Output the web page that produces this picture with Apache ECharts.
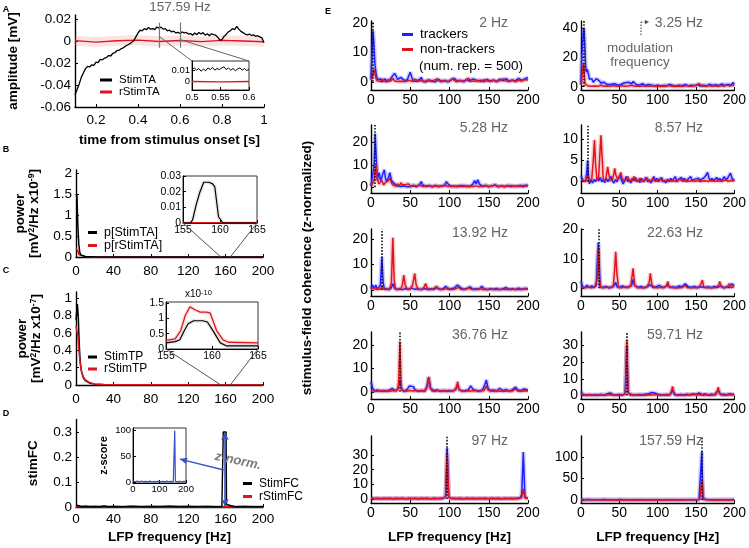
<!DOCTYPE html>
<html><head><meta charset="utf-8">
<script src="https://cdn.jsdelivr.net/npm/echarts@6/dist/echarts.min.js"></script>
<style>html,body{margin:0;padding:0;background:#fff}#c{width:749px;height:548px}</style>
</head><body><div id="c"></div><script>
// ---------------- DATA ----------------
// Panel A: stimulus-triggered average (157.59 Hz), time [s] vs amplitude [mV]
const stimTA = [[0.10,-0.049],[0.11,-0.044],[0.12,-0.039],[0.13,-0.033],[0.14,-0.029],[0.15,-0.025],[0.16,-0.023],[0.17,-0.0235],[0.18,-0.0215],[0.19,-0.022],[0.20,-0.019],[0.21,-0.0195],[0.22,-0.0165],[0.23,-0.017],[0.24,-0.0155],[0.25,-0.015],[0.26,-0.013],[0.27,-0.0135],[0.28,-0.011],[0.29,-0.0105],[0.30,-0.0085],[0.31,-0.0082],[0.32,-0.0068],[0.33,-0.006],[0.34,-0.0045],[0.35,-0.0035],[0.36,-0.0025],[0.37,-0.001],[0.38,0.0005],[0.39,0.004],[0.40,0.0075],[0.41,0.010],[0.42,0.0095],[0.43,0.0115],[0.44,0.0105],[0.45,0.0125],[0.46,0.011],[0.47,0.0115],[0.48,0.0105],[0.49,0.013],[0.50,0.012],[0.51,0.0128],[0.52,0.011],[0.53,0.0115],[0.54,0.0095],[0.55,0.010],[0.56,0.0085],[0.57,0.0092],[0.58,0.0075],[0.59,0.008],[0.60,0.007],[0.61,0.0085],[0.62,0.0075],[0.63,0.008],[0.64,0.0065],[0.65,0.007],[0.66,0.0055],[0.67,0.0075],[0.68,0.006],[0.69,0.008],[0.70,0.0065],[0.71,0.0078],[0.72,0.0055],[0.73,0.0068],[0.74,0.005],[0.75,0.0068],[0.76,0.006],[0.77,0.0055],[0.78,0.0035],[0.79,0.001],[0.80,0.0015],[0.81,0.0045],[0.82,0.0062],[0.83,0.0085],[0.84,0.0095],[0.85,0.0115],[0.86,0.0105],[0.87,0.0135],[0.88,0.011],[0.89,0.009],[0.90,0.0078],[0.91,0.0065],[0.92,0.0058],[0.93,0.0065],[0.94,0.0052],[0.95,0.0058],[0.96,0.0045],[0.97,0.005],[0.98,0.004],[0.99,0.003],[1.00,-0.0015]];
const rStimTA = [[0.1,0.0005],[0.2,-0.0008],[0.3,0.0004],[0.4,0.001],[0.5,-0.0002],[0.6,0.0006],[0.7,-0.0004],[0.8,0.0008],[0.9,0.0002],[1.0,-0.0005]];
const stimTAzoom = [[0.500,0.011],[0.504,0.0125],[0.508,0.0105],[0.512,0.012],[0.516,0.0095],[0.520,0.0115],[0.524,0.010],[0.528,0.0125],[0.532,0.011],[0.536,0.013],[0.540,0.0105],[0.544,0.012],[0.548,0.011],[0.552,0.0125],[0.556,0.0135],[0.560,0.011],[0.564,0.0125],[0.568,0.0105],[0.572,0.012],[0.576,0.010],[0.580,0.0115],[0.584,0.0125],[0.588,0.0105],[0.592,0.012],[0.596,0.010],[0.600,0.0115]];
const rStimTAzoom = [[0.5,0.0002],[0.55,-0.0001],[0.6,0.0002]];
const ticksA_x = [0.2,0.4,0.6,0.8,1], ticksA_y = [-0.06,-0.04,-0.02,0,0.02];
const ticksAin_x = [0.5,0.55,0.6], ticksAin_y = [0,0.01];

// Panel B: power of StimTA (x1e-9)
const pStimTA = [[0,1.5],[1,1.45],[2,0.75],[3,0.3],[4,0.12],[5,0.05],[7,0.02],[10,0.01],[20,0.004],[40,0.001],[200,0]];
const pRStimTA = [[0,0.2],[1,0.22],[2,0.15],[3,0.06],[5,0.02],[10,0.005],[20,0.001],[200,0]];
const pStimTAzoom = [[155,0],[156,0],[156.3,0.002],[156.8,0.012],[157.3,0.02],[157.8,0.026],[158.5,0.026],[159,0.025],[159.3,0.023],[159.8,0.004],[160.4,0],[165,0]];
const pRStimTAzoom = [[155,0.0003],[160,0.0003],[165,0.0003]];
const ticksB_x = [0,40,80,120,160,200], ticksB_y = [0,0.5,1,1.5,2];
const ticksBin_x = [155,160,165], ticksBin_y = [0,0.01,0.02,0.03];

// Panel C: StimTP power (x1e-7), inset in units of 1e-10
const stimTP = [[0,0.75],[1.5,0.93],[2.5,0.78],[3,0.6],[4,0.35],[5,0.22],[6,0.15],[8,0.08],[10,0.05],[15,0.02],[20,0.01],[30,0.004],[50,0.002],[100,0.001],[200,0]];
const rStimTP = [[0,0.68],[1,0.66],[2,0.56],[3,0.42],[4,0.3],[5,0.21],[6,0.15],[8,0.09],[10,0.06],[15,0.025],[20,0.012],[30,0.005],[50,0.002],[99,0.002],[100,0.012],[101,0.002],[200,0.001]];
const stimTPzoom = [[155,0.2],[156,0.24],[156.5,0.3],[157,0.6],[157.4,0.82],[158,0.92],[159,0.92],[159.5,0.88],[160.1,0.6],[160.9,0.2],[161.6,0.1],[165,0.1]];
const rStimTPzoom = [[155,0.28],[156,0.33],[156.6,0.6],[157.1,1.1],[157.6,1.37],[158.2,1.27],[158.7,1.2],[159.4,1.2],[159.8,1.17],[160.5,0.6],[161.2,0.3],[161.8,0.22],[165,0.2]];
const ticksC_x = [0,40,80,120,160,200], ticksC_y = [0,0.2,0.4,0.6,0.8,1];
const ticksCin_x = [155,160,165], ticksCin_y = [0,0.5,1,1.5];

// Panel D: stimulus-field coherence, inset z-score
const stimFC = [[0,0.008],[2,0.002],[6,0.001],[10,0.003],[15,0.001],[20,0.002],[25,0.001],[30,0.004],[35,0.001],[40,0.002],[50,0.001],[60,0.003],[70,0.001],[80,0.002],[90,0.001],[100,0.003],[110,0.001],[120,0.002],[130,0.001],[140,0.002],[150,0.001],[156,0.002],[157,0.01],[157.5,0.3],[160.5,0.3],[161,0.01],[162,0.002],[170,0.001],[180,0.002],[190,0.001],[200,0.001]];
const rStimFC = [[0,0.002],[50,0.001],[100,0.002],[150,0.001],[200,0.001]];
const zScore = [[0,2],[8,0.5],[16,1.5],[24,0.3],[32,1.8],[40,0.5],[48,1.2],[56,0.3],[64,1.5],[72,0.4],[80,1],[88,0.3],[96,1.5],[104,0.5],[112,1.2],[120,0.3],[128,1.6],[136,0.5],[144,1],[152,0.4],[156,1],[157.5,100],[159,100],[160,1],[168,0.5],[176,1.2],[184,0.4],[192,1],[200,0.5]];
const ticksD_x = [0,40,80,120,160,200], ticksD_y = [0,0.1,0.2,0.3];
const ticksDin_x = [0,100,200], ticksDin_y = [0,50,100];

// Panel E: stimulus-field coherence (z-normalized), trackers vs non-trackers
const e1Trackers = [[0,1],[1,8],[2.5,17.5],[3.5,14],[5,6],[6.5,2.5],[8,0.8],[10,0.2],[12,1],[14,0],[16,0.6],[18,1],[20,0.2],[22,0.8],[24,0.3],[26,1.5],[28,1.2],[30,2.9],[32,2],[34,0.8],[36,0.5],[38,1.5],[40,1.7],[42,0.6],[44,0.2],[46,0.5],[48,2],[50,3.3],[52,1.5],[54,0.2],[56,0.5],[58,0.2],[60,0.4],[62,0.8],[64,1.5],[66,0.3],[70,0],[74,0.6],[78,0.2],[82,0],[86,0.8],[90,0.1],[94,0.5],[98,0],[102,0.7],[106,1.2],[110,0.2],[114,0.5],[118,0.1],[122,0.8],[126,0.2],[130,1],[132,1.3],[136,0.3],[140,0.5],[144,0.1],[148,0.8],[152,0.2],[156,0.5],[160,0.1],[164,0.9],[168,0.4],[172,1.1],[176,0.2],[180,0.5],[184,0.3],[188,1.2],[192,0.5],[196,1],[200,1.5]];
const e1NonTrackers = [[0,0.5],[2,2],[4,4.3],[5,3],[6,1.5],[8,0.3],[10,0.6],[12,0.2],[14,1],[16,0.3],[18,0.5],[20,0],[22,0.8],[24,0.2],[26,0.4],[28,1.2],[30,0.3],[32,0.5],[34,0.1],[36,0.6],[38,0.2],[40,0.8],[44,0.1],[48,0.5],[52,0.2],[56,0.9],[60,0.2],[64,0.4],[68,0],[72,0.6],[76,0.2],[80,0.5],[84,1],[88,0.1],[92,0.4],[96,0.2],[100,0.3],[104,1],[108,0.1],[112,0.5],[116,0.2],[120,0.3],[124,1.2],[128,0.3],[132,0.2],[136,0.5],[140,0.1],[144,0.7],[148,0.3],[152,0.2],[156,0.6],[160,0.1],[164,0.4],[168,1],[172,0.2],[176,0.3],[180,0.6],[184,0.1],[188,0.5],[192,0.3],[196,0.8],[200,0.6]];
const e2Trackers = [[0,2],[1,20],[3,38],[4,40],[5,28],[6,14],[7,10],[8,12],[9,12.5],[10,8],[11,5],[12,4],[14,5.5],[16,3],[18,2.5],[20,5.5],[22,6],[24,4],[26,2.5],[28,2],[30,3],[32,2],[34,1.5],[36,2.5],[38,1.5],[40,1.2],[44,2],[48,1],[52,1.5],[56,2.5],[58,1.5],[62,3],[66,2],[68,3.5],[70,3],[72,1.5],[76,1],[80,2],[84,0.8],[88,1.5],[92,1],[96,0.5],[100,1],[104,0.5],[108,0.8],[112,0.6],[116,1.5],[120,0.8],[124,0.5],[128,1],[132,0.6],[136,1.5],[140,0.5],[144,1],[148,0.6],[152,1.2],[156,0.4],[160,1],[164,0.5],[168,1.6],[172,0.8],[176,1.3],[180,0.6],[184,1.8],[188,0.7],[192,1.5],[196,1],[198,2.8],[200,1.5]];
const e2NonTrackers = [[0,1],[2,10],[3.3,16],[4,12],[5,3],[6,1.5],[8,0.5],[10,0.3],[12,0.8],[14,0.2],[18,0.5],[22,0.2],[26,1],[30,0.3],[34,0.5],[38,0.2],[42,0.8],[46,0.3],[50,0.2],[54,0.6],[58,0.3],[62,0.5],[66,1],[70,0.2],[74,0.5],[78,0.2],[82,0.6],[86,0.2],[90,0.3],[94,0.8],[98,0.3],[102,0.2],[106,0.5],[110,0.3],[114,1],[118,0.2],[122,0.4],[126,0.2],[130,0.5],[134,0.3],[138,0.7],[142,0.2],[146,0.5],[150,1],[154,2],[158,0.5],[162,0.3],[166,0.8],[170,0.2],[174,0.6],[178,0.3],[182,0.8],[186,0.3],[190,1.2],[194,0.5],[198,1],[200,0.8]];
const e3Trackers = [[0,0.5],[2,1],[4,10],[5.3,24],[6.5,15],[8,3],[9,5],[10.5,6.5],[12,3],[13.5,4],[15,6],[17,7.8],[18.5,4],[20,2.5],[22,4],[24,6.5],[26,3],[28,2.5],[30,1.5],[32,1],[34,0.5],[36,1.2],[38,0.3],[40,0.8],[42,0.5],[44,1],[46,0.2],[48,0.6],[50,0.3],[54,0.8],[58,0.2],[62,1.2],[64,2.5],[66,1],[70,0.3],[74,0.6],[78,0.2],[82,0.8],[86,0.3],[90,0.5],[94,1],[96,2.5],[98,1.5],[102,0.3],[106,0.6],[110,0.2],[114,0.8],[118,0.3],[122,0.6],[126,0.2],[130,1.5],[132,3],[134,1.5],[136,3.3],[138,1.5],[142,0.3],[146,0.8],[150,0.2],[154,0.6],[158,1],[162,0.2],[166,0.5],[170,0.3],[174,0.8],[178,0.2],[182,0.6],[186,0.3],[190,0.8],[194,0.2],[198,1],[200,0.5]];
const e3NonTrackers = [[0,0.5],[2,1],[4,3],[5.3,7],[6.5,10],[8,4],[10,1.5],[12,2],[14,3],[16,1],[18,2],[20,1.5],[22,3],[24,4],[26,2],[28,1],[30,1.5],[32,0.5],[34,1.5],[36,0.5],[38,2],[40,1],[42,0.3],[44,1.2],[46,0.5],[48,1.5],[50,0.3],[54,0.8],[58,0.5],[62,1],[66,0.3],[70,0.5],[74,0.8],[78,0.2],[82,0.6],[86,0.3],[90,0.5],[94,0.8],[98,0.3],[102,0.5],[106,0.2],[110,0.6],[114,0.3],[118,0.8],[122,0.2],[126,0.5],[130,0.3],[134,0.6],[138,0.2],[142,0.5],[146,0.8],[150,0.3],[154,0.5],[158,1],[162,0.3],[166,0.6],[170,0.2],[174,0.5],[178,0.8],[182,0.3],[186,0.6],[190,0.3],[194,0.8],[198,0.5],[200,0.6]];
const e4Trackers = [[0,1.5],[2,0.5],[4,0.8],[6,0],[7.5,2],[8.6,5],[9.8,1],[11,-0.5],[13,0.5],[15,-0.3],[17,0.5],[19,0],[21,0.8],[23,0.2],[25,1],[27,0],[29,0.5],[31,-0.2],[33,0.8],[35,0],[37,0.6],[39,1.2],[41,0.2],[43,-0.3],[45,0.5],[47,0],[49,0.8],[51,1.5],[53,0.3],[55,-0.5],[57,0.3],[59,1.2],[61,0],[63,0.5],[65,-0.3],[67,0.8],[69,0.2],[71,1],[73,0],[75,0.5],[77,-0.2],[79,0.8],[81,0],[83,0.3],[85,1],[87,0],[89,0.5],[91,-0.3],[93,0.3],[95,1.2],[97,0.2],[99,0.8],[101,0],[103,0.5],[105,1],[107,0.2],[109,0.5],[111,-0.2],[113,0.6],[115,0],[117,0.8],[119,0.2],[121,0.5],[123,1.2],[125,0],[127,0.5],[129,0.2],[131,1],[133,0.3],[135,0.8],[137,0],[139,0.5],[141,0.2],[143,1.2],[145,0.3],[147,0],[149,0.6],[151,0.2],[153,0.8],[155,0],[157,0.5],[159,0.3],[161,1],[163,1.5],[165,2.2],[167,0.8],[169,0.3],[171,0.8],[173,0.2],[175,0.5],[177,1],[179,0.3],[181,0.8],[183,0.2],[185,0.5],[187,1.2],[189,0.3],[191,0.8],[193,0.5],[195,2],[197,0.8],[199,0.3],[200,0.5]];
const e4NonTrackers = [[0,0.5],[3,0.3],[6,0.2],[8.6,1.5],[11,0.3],[14,0.5],[16,5],[17.6,9.8],[19,4],[21,0.3],[23,1],[24.5,6],[26,10.9],[27.5,6],[29,0.5],[32,0.3],[33.5,2],[34.8,3.5],[36,2],[38,0.3],[41,0.5],[43,2],[44,3.1],[45.5,1.5],[48,0.5],[50.5,1.5],[52,2.2],[53.5,0.8],[56,0.2],[59,0.5],[61,1.2],[63,0.3],[67,0.3],[69,1.2],[71,0.3],[74,0.2],[77,0.8],[79,0.2],[83,0.2],[85.5,1],[88,0.2],[92,0.3],[94,0.8],[96,0.1],[100,0.2],[103,0.7],[106,0.1],[110,0.3],[112,0.6],[114,0.1],[118,0.2],[120,0.6],[123,0.1],[126,0.2],[129,0.6],[132,0.1],[136,0.3],[138,0.5],[141,0.1],[144,0.2],[146,0.6],[149,0.1],[152,0.2],[155,0.6],[158,0.1],[161,0.2],[163,0.5],[166,0.1],[170,0.2],[172,0.6],[175,0.1],[178,0.2],[180,0.5],[184,0.1],[186,0.3],[189,0.5],[192,0.1],[196,0.3],[198,0.5],[200,0.2]];
const e5Trackers = [[0,0.5],[2,2],[4,0.5],[6,2],[8,0.3],[10,0.8],[12,2],[13.9,13],[15.5,3],[17,0.3],[20,0.5],[23,0.2],[26,1],[28,2.5],[30,0.8],[33,0.2],[36,0.5],[40,0.2],[44,0.6],[48,0.3],[52,0.8],[56,0.3],[60,0.5],[64,0.2],[68,0.6],[72,0.2],[76,0.5],[80,0.3],[84,1],[88,0.3],[92,0.5],[95,1.5],[98,0.3],[102,0.5],[106,0.8],[110,2],[112,1.8],[115,0.8],[118,0.3],[122,0.6],[126,1.3],[130,0.3],[134,0.5],[138,0.3],[141,1.5],[144,0.5],[148,0.2],[152,0.5],[156,0.3],[160,0.6],[164,0.2],[168,0.5],[172,1],[176,0.3],[180,0.5],[184,0.2],[188,0.8],[192,0.3],[196,0.6],[200,0.5]];
const e5NonTrackers = [[0,0.5],[3,0.8],[6,0.3],[9,0.5],[12,0.3],[14,1.5],[16,0.5],[20,0.3],[24,0.5],[26,3],[27.8,20.5],[29.5,4],[31,0.5],[35,0.3],[38,0.5],[40,2],[41.8,5.9],[43.5,2],[46,0.3],[50,0.5],[53,2],[55.7,6.5],[57.5,2],[60,0.3],[64,0.2],[67.5,1],[69.6,2.6],[71.5,0.8],[75,0.2],[79,0.3],[81.5,0.8],[83.5,1.5],[85.5,0.5],[89,0.2],[93,0.3],[97.4,1],[100,0.3],[104,0.2],[108,0.5],[111.4,1.2],[114,0.3],[118,0.2],[122,0.5],[125.3,0.9],[128,0.3],[132,0.2],[136,0.3],[139.2,0.7],[142,0.2],[146,0.3],[150,0.2],[153,0.5],[156,0.2],[160,0.3],[164,0.2],[167,0.5],[170,0.2],[174,0.3],[178,0.2],[181,0.4],[184,0.2],[188,0.3],[192,0.2],[195,0.5],[200,0.3]];
const e6Trackers = [[0,2.5],[2,0.5],[5,0.3],[8,1],[11,0.2],[14,0.8],[17,0.3],[20,1],[21.5,10],[22.6,15.5],[23.8,8],[25,0.5],[28,0.3],[32,0.6],[36,0.2],[40,0.5],[43,0.8],[45.3,2],[47,0.5],[50,0.3],[54,0.8],[58,0.3],[62,0.5],[66,1],[68,3],[70,1],[74,0.3],[78,0.6],[82,0.2],[86,0.5],[90.5,1.2],[94,0.3],[98,0.5],[102,1],[106,0.3],[110,0.5],[113,1],[116,0.3],[120,0.5],[124,0.2],[128,0.8],[132,0.5],[136,1.5],[140,0.5],[144,0.3],[148,0.6],[152,0.2],[156,0.5],[158,1],[162,0.3],[166,0.5],[170,0.2],[174,0.6],[178,0.3],[182,0.8],[186,0.2],[190,0.5],[194,0.3],[197,1.5],[200,0.8]];
const e6NonTrackers = [[0,0.5],[3,0.3],[6,0.2],[10,0.5],[14,0.2],[18,0.5],[21,3],[22.6,13],[24,3],[26,0.3],[30,0.2],[34,0.5],[38,0.2],[42,0.5],[43.8,6],[45.3,12.4],[46.8,5],[49,0.3],[53,0.2],[57,0.5],[61,0.2],[65,0.8],[67.9,6.8],[70,1],[74,0.2],[78,0.3],[82,0.2],[86,0.5],[89,2],[90.5,5.1],[92.5,1],[96,0.3],[100,0.2],[104,0.4],[108,0.2],[111.5,0.8],[113.2,2.3],[115,0.5],[120,0.2],[124,0.3],[128,0.2],[132,0.3],[135.8,1],[138,0.3],[142,0.2],[146,0.3],[150,0.2],[154,0.5],[156.5,1.5],[158.4,2.8],[160,0.5],[164,0.2],[168,0.3],[172,0.2],[176,0.3],[179.5,1],[181,2.3],[183,0.5],[187,0.2],[191,0.5],[193.5,1.6],[196,0.3],[200,0.5]];
const e7Trackers = [[0,4.3],[2,1.5],[5,0.3],[8,0.8],[12,0.2],[16,0.5],[20,0.3],[24,0.8],[27,1.5],[30,0.5],[34,1],[36.8,5],[39,0.8],[42,0.3],[46,1],[49,2.5],[51,1.8],[54,2.2],[56,0.8],[60,0.3],[64,0.6],[68,0.3],[71,2],[73.5,6.2],[76,1.5],[80,0.5],[84,0.8],[88,0.2],[92,0.5],[96,0.3],[100,0.6],[104,0.3],[108,1],[110.3,3],[112,1],[116,0.3],[120,0.5],[124,0.8],[127,2.5],[130,1],[134,0.5],[138,0.3],[142,0.8],[145,3],[147,5],[149,1.5],[152,0.5],[156,0.8],[160,0.3],[164,1.5],[168,0.5],[172,1],[176,0.3],[180,0.8],[184,2],[187,0.8],[191,0.5],[195,1.2],[200,0.8]];
const e7NonTrackers = [[0,0.5],[4,0.3],[8,0.2],[12,0.5],[16,0.2],[20,0.4],[24,0.2],[28,0.5],[32,0.3],[35,1.5],[36.8,21.5],[38.5,2],[41,0.3],[45,0.2],[49,0.5],[53,0.3],[57,0.5],[61,0.2],[65,0.4],[69,0.3],[72,2.5],[73.5,6.4],[75,2],[78,0.3],[82,0.2],[86,0.5],[90,0.2],[94,0.4],[98,0.2],[102,0.3],[106,0.5],[109,2],[110.3,4.3],[112,1],[116,0.3],[120,0.2],[124,0.4],[128,0.3],[132,0.5],[136,0.2],[140,0.3],[144,0.5],[147,2.5],[149,0.8],[152,0.3],[156,0.2],[160,0.4],[164,0.2],[168,0.3],[172,0.2],[176,0.4],[180,0.3],[183.8,1.2],[187,0.3],[191,0.2],[195,0.4],[200,0.3]];
const e8Trackers = [[0,2.5],[2,0.8],[6,0.3],[10,0.5],[14,0.2],[18,0.5],[22,0.3],[26,0.6],[30,0.2],[34,1],[38,1.5],[42,0.5],[46,0.3],[50,0.6],[54,0.3],[57.5,1],[59.7,30],[61.5,2],[64,0.3],[68,0.5],[72,0.3],[76,0.6],[80,0.4],[84,0.8],[88,1],[92,1.8],[96,1.5],[100,0.8],[104,0.5],[108,0.3],[112,0.6],[116,0.4],[119.4,3],[122,0.5],[126,0.3],[130,0.6],[134,0.3],[138,0.8],[142,0.5],[146,1],[150,0.6],[154,1.5],[158,0.5],[162,1],[166,0.3],[170,0.8],[174,0.5],[179,3],[182,0.5],[186,0.8],[190,0.5],[194,1],[198,0.6],[200,1]];
const e8NonTrackers = [[0,1],[3,0.3],[7,0.2],[11,0.4],[15,0.2],[19,0.3],[23,0.2],[27,0.4],[31,0.2],[35,0.3],[39,0.5],[43,0.2],[47,0.3],[51,0.2],[55,0.4],[58,1],[59.7,33.5],[61.4,1.5],[64,0.3],[68,0.2],[72,0.4],[76,0.2],[80,0.3],[84,0.2],[88,0.5],[92,0.3],[96,0.6],[100,0.3],[104,0.2],[108,0.4],[112,0.2],[116,0.5],[118,2.5],[119.4,5.4],[121,2],[124,0.3],[128,0.2],[132,0.3],[136,0.2],[140,0.4],[144,0.3],[148,0.6],[152,0.3],[156,0.5],[160,0.2],[164,0.4],[168,0.2],[172,0.3],[176,0.4],[177.7,2.5],[179.1,5],[180.6,1.5],[184,0.3],[188,0.2],[192,0.4],[196,0.3],[200,0.5]];
const e9Trackers = [[0,1],[4,0.3],[8,0.6],[12,0.2],[16,0.5],[20,0.3],[24,0.6],[28,0.2],[32,0.5],[36,0.3],[40,0.6],[44,0.2],[48,0.5],[52,0.3],[56,0.6],[60,0.2],[64,0.5],[68,0.3],[72,0.6],[76,0.2],[80,0.5],[84,0.3],[88,0.6],[92,0.4],[95,1.5],[97,35],[99,1.5],[102,0.4],[106,0.6],[110,0.3],[114,0.5],[118,0.2],[122,0.6],[126,0.3],[130,0.5],[134,0.2],[138,0.6],[142,0.3],[146,0.5],[150,0.2],[154,0.6],[158,0.3],[162,0.5],[166,0.2],[170,0.6],[174,0.3],[178,0.5],[182,0.3],[186,0.6],[190,0.8],[192,3],[194,32],[196,2],[198,0.5],[200,0.6]];
const e9NonTrackers = [[0,0.5],[5,0.2],[10,0.4],[15,0.2],[20,0.3],[25,0.2],[30,0.4],[35,0.2],[40,0.3],[45,0.2],[50,0.4],[55,0.2],[60,0.3],[65,0.2],[70,0.4],[75,0.2],[80,0.3],[85,0.2],[90,0.4],[95,1.5],[97,31],[99,1],[103,0.3],[108,0.2],[113,0.4],[118,0.2],[123,0.3],[128,0.2],[133,0.4],[138,0.2],[143,0.3],[148,0.2],[153,0.4],[158,0.2],[163,0.3],[168,0.2],[173,0.4],[178,0.2],[183,0.3],[188,0.2],[192,1],[194,7],[196,0.8],[200,0.3]];
const e10Trackers = [[0,1.5],[5,0.5],[10,1.2],[15,0.3],[20,0.8],[25,0.4],[30,1],[35,0.3],[40,0.7],[45,0.2],[50,0.9],[55,0.3],[60,0.6],[65,0.2],[70,0.8],[75,0.3],[80,0.6],[85,0.2],[90,0.8],[95,0.3],[100,0.6],[105,0.2],[110,0.7],[115,0.3],[120,0.6],[125,0.2],[130,0.8],[135,0.3],[140,0.6],[145,0.3],[150,0.8],[154,1],[156,3],[157.6,112],[159,3],[161,1],[165,0.5],[170,0.8],[175,0.3],[180,0.6],[185,0.3],[190,0.8],[195,0.4],[200,1]];
const e10NonTrackers = [[0,0.5],[10,0.3],[20,0.5],[30,0.2],[40,0.4],[50,0.2],[60,0.4],[70,0.2],[80,0.3],[90,0.2],[100,0.4],[110,0.2],[120,0.3],[130,0.2],[140,0.4],[150,0.3],[155,1],[157.6,45],[160,1],[165,0.3],[175,0.2],[185,0.4],[195,0.2],[200,0.3]];
const eTitles = ['2 Hz','3.25 Hz','5.28 Hz','8.57 Hz','13.92 Hz','22.63 Hz','36.76 Hz','59.71 Hz','97 Hz','157.59 Hz'];
const eFreqs = [2,3.25,5.28,8.57,13.92,22.63,36.76,59.71,97,157.59];
const eYRange = [[-2.8,20.8],[-2.3,45],[-2.6,27.9],[-2.65,13.3],[-2.3,23.9],[-2.6,20.1],[-3.1,25.6],[-2.1,38.2],[-2.7,43],[-7,149]];
const eYTicks = [[0,10,20],[0,20,40],[0,10,20],[0,5,10],[0,10,20],[0,10,20],[0,10,20],[0,10,20,30],[0,10,20,30],[0,50,100]];
const eXTicks = [0,50,100,150,200];
const eTrackers = [e1Trackers,e2Trackers,e3Trackers,e4Trackers,e5Trackers,e6Trackers,e7Trackers,e8Trackers,e9Trackers,e10Trackers];
const eNonTrackers = [e1NonTrackers,e2NonTrackers,e3NonTrackers,e4NonTrackers,e5NonTrackers,e6NonTrackers,e7NonTrackers,e8NonTrackers,e9NonTrackers,e10NonTrackers];

// ---------------- BUILD ----------------
const FONT = "'Liberation Sans', Arial, Helvetica, sans-serif";
const BLUE = '#1f1fff', RED = '#e0141e', GRAY = '#666';
const grids = [], xAxes = [], yAxes = [], series = [];

function mkAxis(gi, o) {
  return {
    gridIndex: gi, type: 'value', min: o.min, max: o.max,
    axisLine: {show: true, onZero: false, lineStyle: {color: '#000', width: o.lw || 1.4}},
    axisTick: {show: true, inside: true, length: 3, customValues: o.ticks, lineStyle: {color: '#000', width: 1}},
    axisLabel: {show: true, customValues: o.ticks, fontSize: o.fs, color: '#000', fontFamily: FONT, margin: o.margin},
    splitLine: {show: false},
    name: o.name || '', nameLocation: 'middle', nameGap: o.gap || 20,
    nameTextStyle: {fontSize: o.nfs || 13.5, fontWeight: 'bold', color: '#000', fontFamily: FONT, lineHeight: o.nlh || 15, rich: o.rich}
  };
}
function addPanel(p) {
  const i = grids.length;
  grids.push({left: p.left, top: p.top, width: p.width, height: p.height,
    show: !!p.box, borderColor: '#333', borderWidth: p.box ? 1 : 0,
    backgroundColor: p.box ? '#fff' : 'transparent'});
  xAxes.push(mkAxis(i, {min: p.xmin, max: p.xmax, ticks: p.xt, fs: p.fs, margin: p.xm, name: p.xName, gap: p.xGap, lw: p.lw, nfs: p.nfs}));
  yAxes.push(mkAxis(i, {min: p.ymin, max: p.ymax, ticks: p.yt, fs: p.fs, margin: p.ym, name: p.yName, gap: p.yGap, lw: p.lw, nfs: p.nfs, nlh: p.nlh, rich: p.rich}));
  return i;
}
function addLine(gi, data, color, width, name, band, bandColor, extra) {
  if (band) series.push({type: 'line', xAxisIndex: gi, yAxisIndex: gi, data: data, symbol: 'none', showSymbol: false, silent: true,
    lineStyle: {color: bandColor || color, width: band, opacity: 0.22}, itemStyle: {color: bandColor || color}, z: 3, animation: false});
  const s = {type: 'line', name: name, xAxisIndex: gi, yAxisIndex: gi, data: data, symbol: 'none', showSymbol: false,
    lineStyle: {color: color, width: width}, itemStyle: {color: color}, z: 4, animation: false};
  if (extra) Object.assign(s, extra);
  series.push(s);
}
const supRich = {n: {fontSize: 13.5, fontWeight: 'bold', fontFamily: FONT, color: '#000'}, s: {fontSize: 8.5, fontWeight: 'bold', fontFamily: FONT, color: '#000', verticalAlign: 'top'}};

// A
const gA = addPanel({left: 75, top: 15, width: 189, height: 92, xmin: 0.1, xmax: 1, ymin: -0.06, ymax: 0.0239,
  xt: ticksA_x, yt: ticksA_y, fs: 13.5, xm: 6, ym: 4, xName: 'time from stimulus onset [s]', xGap: 26, yName: 'amplitude [mV]', yGap: 54});
addLine(gA, rStimTA, RED, 1.4, 'rStimTA', 10, '#f08080');
addLine(gA, stimTA, '#000', 1.3, 'StimTA', 0, null, {markLine: {silent: true, symbol: 'none', animation: false, label: {show: false},
  lineStyle: {color: '#777', width: 1.2, type: 'solid'},
  data: [[{coord: [0.5, 0.017]}, {coord: [0.5, -0.006]}], [{coord: [0.6, 0.017]}, {coord: [0.6, -0.006]}]]}});
const gAi = addPanel({left: 192, top: 61, width: 57, height: 29, xmin: 0.5, xmax: 0.6, ymin: -0.0075, ymax: 0.0188, box: true, lw: 1,
  xt: ticksAin_x, yt: ticksAin_y, fs: 9.5, xm: 2, ym: 2});
addLine(gAi, rStimTAzoom, RED, 1.3, 'rStimTA');
addLine(gAi, stimTAzoom, '#000', 1, 'StimTA');

// B
const gB = addPanel({left: 76, top: 170, width: 187, height: 87, xmin: 0, xmax: 200, ymin: 0, ymax: 2.07,
  xt: ticksB_x, yt: ticksB_y, fs: 13.5, xm: 7, ym: 4, yName: '{n|power}\n{n|[mV}{s|2}{n|/Hz x10}{s|-9}{n|]}', yGap: 35, rich: supRich, nlh: 14});
addLine(gB, pRStimTA, RED, 1.5, 'p[rStimTA]');
addLine(gB, pStimTA, '#000', 1.5, 'p[StimTA]');
const gBi = addPanel({left: 183, top: 176, width: 74, height: 47, xmin: 155, xmax: 165, ymin: 0, ymax: 0.03, box: true, lw: 1,
  xt: ticksBin_x, yt: ticksBin_y, fs: 10.5, xm: 2, ym: 2});
addLine(gBi, pRStimTAzoom, RED, 1.3, 'p[rStimTA]');
addLine(gBi, pStimTAzoom, '#000', 1.2, 'p[StimTA]', 4, '#999');

// C
const gC = addPanel({left: 76, top: 292, width: 187, height: 93, xmin: 0, xmax: 200, ymin: 0, ymax: 1.07,
  xt: ticksC_x, yt: ticksC_y, fs: 13.5, xm: 7, ym: 4, yName: '{n|power}\n{n|[mV}{s|2}{n|/Hz x10}{s|-7}{n|]}', yGap: 33, rich: supRich, nlh: 14});
addLine(gC, stimTP, '#000', 1.5, 'StimTP');
addLine(gC, rStimTP, RED, 1.5, 'rStimTP');
const gCi = addPanel({left: 166, top: 302, width: 92, height: 47, xmin: 155, xmax: 165, ymin: 0, ymax: 1.53, box: true, lw: 1,
  xt: ticksCin_x, yt: ticksCin_y, fs: 10.5, xm: 2, ym: 2});
addLine(gCi, stimTPzoom, '#000', 1.2, 'StimTP', 4, '#999');
addLine(gCi, rStimTPzoom, RED, 1.3, 'rStimTP', 4, '#f08080');

// D
const gD = addPanel({left: 76, top: 419.5, width: 187, height: 87.5, xmin: 0, xmax: 200, ymin: 0, ymax: 0.35,
  xt: ticksD_x, yt: ticksD_y, fs: 13.5, xm: 5, ym: 4, xName: 'LFP frequency [Hz]', xGap: 23, yName: 'stimFC', yGap: 35});
addLine(gD, rStimFC, RED, 1.8, 'rStimFC');
addLine(gD, stimFC, '#000', 1.4, 'StimFC', 0, null, {markLine: {silent: true, animation: false, symbol: ['arrow', 'arrow'], symbolSize: [6, 7], label: {show: false},
  lineStyle: {color: '#3552c8', width: 1.6, type: 'solid'},
  data: [[{coord: [159.3, 0.004]}, {coord: [159.3, 0.296]}]]}});
const gDi = addPanel({left: 133, top: 428, width: 53, height: 55, xmin: 0, xmax: 200, ymin: -2, ymax: 105, box: true, lw: 1,
  xt: ticksDin_x, yt: ticksDin_y, fs: 9.5, xm: 1, ym: 2, yName: 'z-score', yGap: 15, nfs: 11});
addLine(gDi, zScore, '#3552c8', 1.2, 'zscore');

// E
const colLeft = [371, 581], rowTop = [21, 125, 229, 332, 436], rowH = [69, 68, 67, 67, 67];
const eGrid = [];
for (let k = 0; k < 10; k++) {
  const r = Math.floor(k / 2), c = k % 2;
  const last = (r === 4);
  const g = addPanel({left: colLeft[c], top: rowTop[r], width: 157, height: rowH[r], xmin: 0, xmax: 200,
    ymin: eYRange[k][0], ymax: eYRange[k][1], xt: eXTicks, yt: eYTicks[k], fs: 14, xm: 3, ym: 3,
    xName: last ? 'LFP frequency [Hz]' : '', xGap: 27});
  eGrid.push(g);
  addLine(g, eTrackers[k], BLUE, 1.5, 'trackers', 4.5, BLUE, {markLine: {silent: true, animation: false, symbol: 'none', label: {show: false},
    lineStyle: {color: '#111', width: 1.6, type: 'dotted'},
    data: [[{coord: [eFreqs[k], 0]}, {coord: [eFreqs[k], eYRange[k][1]]}]]}});
  addLine(g, eNonTrackers[k], RED, 1.5, 'non-trackers', 4.5, RED);
}

function lg(names, left, top, fs, lh, iw) {
  return {data: names, left: left, top: top, orient: 'vertical', itemGap: 0, itemWidth: iw || 12, itemHeight: 3, icon: 'rect',
    selectedMode: false, padding: 0, textStyle: {fontSize: fs, fontFamily: FONT, color: '#000', lineHeight: lh, padding: [0, 0, 0, 2]}};
}
const legends = [
  lg(['StimTA', 'rStimTA'], 100, 74, 11.5, 11, 12),
  lg(['p[StimTA]', 'p[rStimTA]'], 88, 226, 12.5, 11, 9),
  lg(['StimTP', 'rStimTP'], 88, 351, 12, 10.5, 9),
  lg(['StimFC', 'rStimFC'], 243, 477, 12, 13, 9),
  lg(['trackers', 'non-trackers'], 402, 27, 13.5, 15, 11)
];

const chart = echarts.init(document.getElementById('c'), null, {renderer: 'canvas'});
chart.setOption({animation: false, backgroundColor: '#fff', grid: grids, xAxis: xAxes, yAxis: yAxes, series: series, legend: legends});

// ---------------- ANNOTATIONS ----------------
function px(g, pt) { return chart.convertToPixel({gridIndex: g}, pt); }
const gfx = [];
function ln(a, b, color, w, dash) { gfx.push({type: 'line', silent: true, z: 50, shape: {x1: a[0], y1: a[1], x2: b[0], y2: b[1]}, style: {stroke: color, lineWidth: w, lineDash: dash || null}}); }
function tx(x, y, s, font, color, align, rot, rich) {
  gfx.push({type: 'text', x: x, y: y, rotation: rot || 0, silent: true, z: 60,
    style: {text: s, font: font, fill: color || '#000', textAlign: align || 'center', textVerticalAlign: 'middle', align: align || 'center', verticalAlign: 'middle', rich: rich}});
}
function arrowHead(from, to, color, len, hw) {
  const dx = to[0] - from[0], dy = to[1] - from[1], L = Math.hypot(dx, dy), ux = dx / L, uy = dy / L;
  gfx.push({type: 'polygon', silent: true, z: 51, shape: {points: [to, [to[0] - len * ux - hw * uy, to[1] - len * uy + hw * ux], [to[0] - len * ux + hw * uy, to[1] - len * uy - hw * ux]]}, style: {fill: color}});
}
// A zoom connectors
ln(px(gA, [0.5, 0.0045]), px(gAi, [0.5, 0.0188]), '#666', 1);
ln(px(gA, [0.6, 0.0015]), px(gAi, [0.6, 0.0188]), '#666', 1);
// B, C zoom connectors
ln(px(gBi, [155, 0]), px(gB, [155, 0]), '#555', 1);
ln(px(gBi, [165, 0]), px(gB, [165, 0]), '#555', 1);
ln(px(gCi, [155, 0]), px(gC, [155, 0]), '#555', 1);
ln(px(gCi, [165, 0]), px(gC, [165, 0]), '#555', 1);
// D z-norm arrow
const dFrom = px(gD, [158, 0.148]), dTo = px(gDi, [177, 44.5]);
ln(dFrom, dTo, '#3552c8', 1.3);
arrowHead(dFrom, dTo, '#3552c8', 7, 3.2);
tx(238, 461, 'z-norm.', "italic bold 13px " + FONT, '#7a7a7a', 'center', -0.2);
// C inset multiplier
tx(185, 294, '{a|x10}{b|-10}', '10px ' + FONT, '#000', 'left', 0, {a: {fontSize: 10, fontFamily: FONT, color: '#000'}, b: {fontSize: 7.5, fontFamily: FONT, color: '#000', verticalAlign: 'top'}});
// titles
tx(180, 7, '157.59 Hz', '13.5px ' + FONT, GRAY, 'center');
const titleY = [23, 128, 233, 335, 441], titleX = [508, 703];
for (let k = 0; k < 10; k++) tx(titleX[k % 2], titleY[Math.floor(k / 2)], eTitles[k], '14px ' + FONT, GRAY, 'right');
// panel letters
tx(6, 10, 'A', 'bold 9px ' + FONT); tx(6, 150, 'B', 'bold 9px ' + FONT); tx(6, 271, 'C', 'bold 9px ' + FONT);
tx(6, 414, 'D', 'bold 9px ' + FONT); tx(328, 12, 'E', 'bold 9px ' + FONT);
// E y-label and legend extra line
tx(307, 268, 'stimulus-field coherence (z-normalized)', 'bold 13.5px ' + FONT, '#000', 'center', Math.PI / 2);
tx(419, 66, '(num. rep. = 500)', '13.5px ' + FONT, '#000', 'left');
// modulation frequency annotation
ln([641, 35], [641, 22], '#555', 1.2, [1.5, 1.5]);
ln([641, 22], [645, 22], '#555', 1.2, [1.5, 1.5]);
arrowHead([641, 22], [649, 22], '#555', 4, 2.2);
tx(640, 48, 'modulation', '13.5px ' + FONT, GRAY, 'center');
tx(640, 62, 'frequency', '13.5px ' + FONT, GRAY, 'center');
chart.setOption({graphic: gfx});
</script></body></html>
